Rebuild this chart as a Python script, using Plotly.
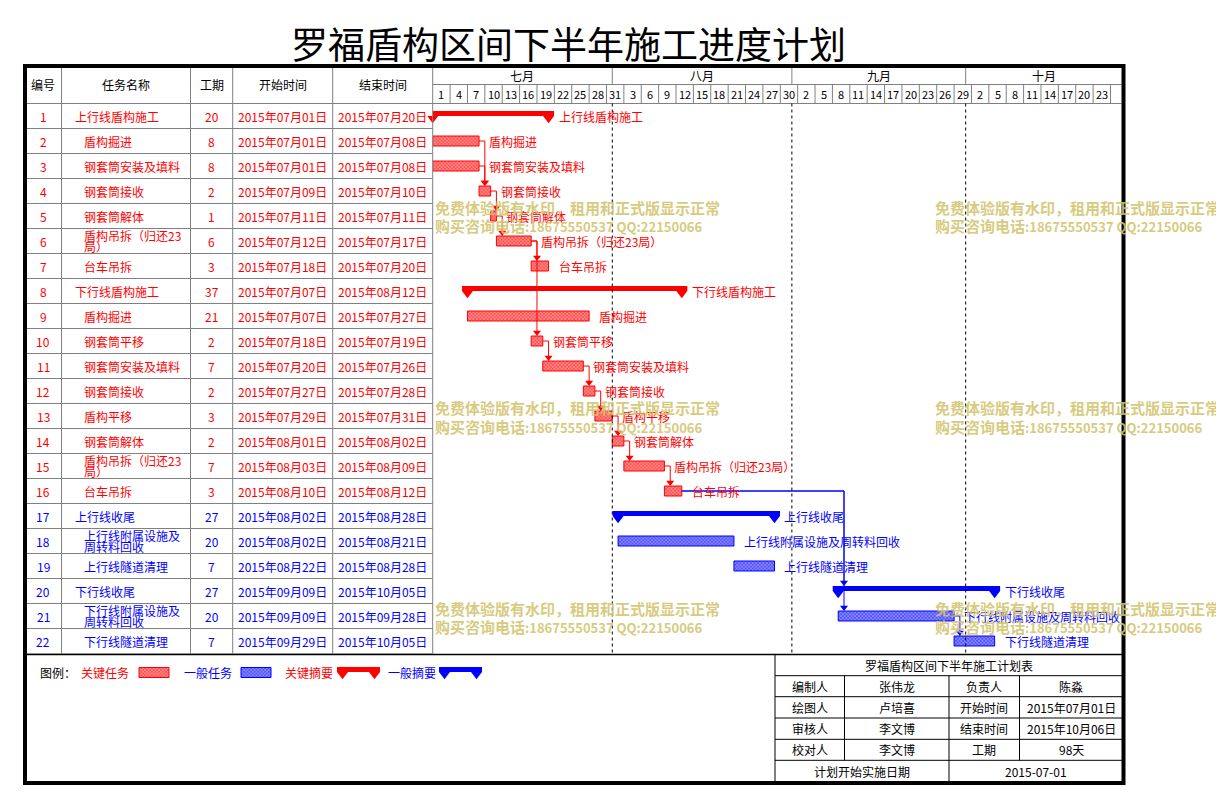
import pandas as pd
import plotly.graph_objects as go

W, H = 1216, 807
FONT = "Noto Sans CJK SC"

# ---------------- data ----------------
title_text = "罗福盾构区间下半年施工进度计划"
task_ids = list(range(1, 23))
task_names = [
    "上行线盾构施工", "盾构掘进", "钢套筒安装及填料", "钢套筒接收", "钢套筒解体",
    "盾构吊拆（归还23局）", "台车吊拆", "下行线盾构施工", "盾构掘进", "钢套筒平移",
    "钢套筒安装及填料", "钢套筒接收", "盾构平移", "钢套筒解体", "盾构吊拆（归还23局）",
    "台车吊拆", "上行线收尾", "上行线附属设施及周转料回收", "上行线隧道清理",
    "下行线收尾", "下行线附属设施及周转料回收", "下行线隧道清理",
]
durations = [20, 8, 8, 2, 1, 6, 3, 37, 21, 2, 7, 2, 3, 2, 7, 3, 27, 20, 7, 27, 20, 7]
start_dates = [
    "2015-07-01", "2015-07-01", "2015-07-01", "2015-07-09", "2015-07-11", "2015-07-12",
    "2015-07-18", "2015-07-07", "2015-07-07", "2015-07-18", "2015-07-20", "2015-07-27",
    "2015-07-29", "2015-08-01", "2015-08-03", "2015-08-10", "2015-08-02", "2015-08-02",
    "2015-08-22", "2015-09-09", "2015-09-09", "2015-09-29",
]
end_dates = [
    "2015-07-20", "2015-07-08", "2015-07-08", "2015-07-10", "2015-07-11", "2015-07-17",
    "2015-07-20", "2015-08-12", "2015-07-27", "2015-07-19", "2015-07-26", "2015-07-28",
    "2015-07-31", "2015-08-02", "2015-08-09", "2015-08-12", "2015-08-28", "2015-08-21",
    "2015-08-28", "2015-10-05", "2015-09-28", "2015-10-05",
]
summary_ids = [1, 8, 17, 20]
critical_ids = list(range(1, 17))
dependencies = [(2, 4), (3, 4), (4, 5), (5, 6), (6, 7), (6, 10), (10, 11), (11, 12),
                (12, 13), (13, 14), (14, 15), (15, 16), (16, 20), (16, 21), (21, 22)]
header_labels = ["编号", "任务名称", "工期", "开始时间", "结束时间"]
month_names = ["七月", "八月", "九月", "十月"]
month_starts = ["2015-07-01", "2015-08-01", "2015-09-01", "2015-10-01"]
legend_title = "图例："
legend_labels = ["关键任务", "一般任务", "关键摘要", "一般摘要"]
info_title = "罗福盾构区间下半年施工计划表"
info_rows = [
    ["编制人", "张伟龙", "负责人", "陈淼"],
    ["绘图人", "卢培喜", "开始时间", "2015年07月01日"],
    ["审核人", "李文博", "结束时间", "2015年10月06日"],
    ["校对人", "李文博", "工期", "98天"],
]
info_footer = ["计划开始实施日期", "2015-07-01"]
watermark_line1 = "免费体验版有水印，租用和正式版显示正常"
watermark_line2_cn = "购买咨询电话"
watermark_line2_num = ":18675550537 QQ:22150066"

# ---------------- layout constants (px) ----------------
RED, BLUE, GRID = "#FF0000", "#0000FF", "#808080"
TINT = {RED: "#FF9C9C", BLUE: "#9C9CFF"}
COL_X = [25, 61.5, 190.5, 232.7, 332.7, 432.7]
GANTT_R = 1121.5
BORDER_R = 1123.5
HEAD_TOP, MONTH_BOT, HEAD_BOT, BODY_BOT = 66, 84.5, 103.5, 653.5
BOTTOM = 783
RANGE_DAYS = 118.9
T0 = pd.Timestamp(start_dates[0])
T_END = T0 + pd.Timedelta(days=RANGE_DAYS)
DAY = pd.Timedelta(days=1)
CAP = pd.Timedelta(days=0.95)
PATTERN = dict(shape="x", size=2.5, solidity=0.6)


def fx(px):
    return px / W


def fy(py):
    return 1 - py / H


def ts(t):
    return pd.Timestamp(t).strftime("%Y-%m-%d %H:%M:%S")


def cn_date(s):
    d = pd.Timestamp(s)
    return f"{d.year}年{d.month:02d}月{d.day:02d}日"


def wrap(text, maxw=100):
    lines, cur, w = [], "", 0
    for ch in text:
        cw = 7 if ord(ch) < 128 else 12
        if w + cw > maxw and cur:
            lines.append(cur)
            cur, w = "", 0
        cur += ch
        w += cw
    lines.append(cur)
    return lines


fig = go.Figure()
annotations = []
shapes = []


def ann(text, x, y, color="black", size=12, xanchor="center", xref="paper", yref="paper", **kw):
    d = dict(text=text, x=x, y=y, xref=xref, yref=yref, showarrow=False,
             xanchor=xanchor, yanchor="middle", font=dict(family=FONT, size=size, color=color))
    d.update(kw)
    annotations.append(d)


def line(x0, y0, x1, y1, color=GRID, width=1, dash=None, xref="paper", yref="paper"):
    shapes.append(dict(type="line", x0=x0, y0=y0, x1=x1, y1=y1, xref=xref, yref=yref,
                       line=dict(color=color, width=width, dash=dash)))


def pattern(col):
    return dict(fgcolor=col, bgcolor=TINT[col], **PATTERN)


color_of = {i: (RED if i in critical_ids else BLUE) for i in task_ids}
starts = {i: pd.Timestamp(s) for i, s in zip(task_ids, start_dates)}
ends = {i: pd.Timestamp(e) + DAY for i, e in zip(task_ids, end_dates)}

# ---------------- task bars ----------------
for crit, col in ((True, RED), (False, BLUE)):
    ids = [i for i in task_ids if i not in summary_ids and (i in critical_ids) == crit]
    fig.add_trace(go.Bar(
        orientation="h", y=ids, base=[ts(starts[i]) for i in ids],
        x=[(ends[i] - starts[i]).total_seconds() * 1000 for i in ids],
        width=0.4, marker=dict(color=TINT[col], line=dict(color=col, width=1), pattern=pattern(col)),
        hoverinfo="skip", showlegend=False, xaxis="x", yaxis="y"))
    sids = [i for i in summary_ids if (i in critical_ids) == crit]
    fig.add_trace(go.Bar(
        orientation="h", y=sids, base=[ts(starts[i] - CAP) for i in sids],
        x=[(ends[i] - starts[i] + 2 * CAP).total_seconds() * 1000 for i in sids],
        width=0.2, offset=-0.2, marker=dict(color=col, line=dict(width=0)), cliponaxis=False,
        hoverinfo="skip", showlegend=False, xaxis="x", yaxis="y"))
    tx, ty = [], []
    for i in sids:
        tx += [ts(starts[i]), ts(ends[i])]
        ty += [i + 0.096, i + 0.096]
    fig.add_trace(go.Scatter(x=tx, y=ty, mode="markers", cliponaxis=False,
                             marker=dict(symbol="triangle-down", size=9.5, color=col, line=dict(width=0)),
                             hoverinfo="skip", showlegend=False, xaxis="x", yaxis="y"))

# ---------------- dependency connectors ----------------
for col in (RED, BLUE):
    lx, ly, ax, ay = [], [], [], []
    for p, s in dependencies:
        if color_of[s] != col:
            continue
        xa = starts[s] + DAY
        lx += [ts(ends[p]), ts(xa), ts(xa), None]
        ly += [p, p, s - 0.3, None]
        ax.append(ts(xa))
        ay.append(s - 0.34)
    fig.add_trace(go.Scatter(x=lx, y=ly, mode="lines", line=dict(color=col, width=1),
                             hoverinfo="skip", showlegend=False, xaxis="x", yaxis="y"))
    fig.add_trace(go.Scatter(x=ax, y=ay, mode="markers", cliponaxis=False,
                             marker=dict(symbol="triangle-down", size=7, color=col, line=dict(width=0)),
                             hoverinfo="skip", showlegend=False, xaxis="x", yaxis="y"))

# ---------------- gantt labels ----------------
for i, name in zip(task_ids, task_names):
    ann(name, ts(ends[i]), i, color=color_of[i], xanchor="left", xref="x", yref="y", xshift=8)

# ---------------- left table ----------------
for k, lab in enumerate(header_labels):
    ann(lab, fx((COL_X[k] + COL_X[k + 1]) / 2), fy((HEAD_TOP + HEAD_BOT) / 2))
for i, name, dur, s, e in zip(task_ids, task_names, durations, start_dates, end_dates):
    c = color_of[i]
    ann(str(i), fx(43), i, color=c, yref="y")
    xl = 73 if i in summary_ids else 82
    parts = wrap(name)
    if len(parts) == 1:
        ann(name, fx(xl), i, color=c, xanchor="left", yref="y")
    else:
        ann(parts[0], fx(xl), i - 0.23, color=c, xanchor="left", yref="y")
        ann(parts[1], fx(xl), i + 0.23, color=c, xanchor="left", yref="y")
    ann(str(dur), fx((COL_X[2] + COL_X[3]) / 2), i, color=c, yref="y")
    ann(cn_date(s), fx((COL_X[3] + COL_X[4]) / 2), i, color=c, yref="y")
    ann(cn_date(e), fx((COL_X[4] + COL_X[5]) / 2), i, color=c, yref="y")

for cx in COL_X[1:]:
    line(fx(cx), fy(HEAD_TOP), fx(cx), fy(BODY_BOT))
for k in range(len(task_ids)):
    line(fx(COL_X[0]), k + 1.5, fx(COL_X[5]), k + 1.5, yref="y")
line(fx(COL_X[0]), fy(HEAD_BOT), fx(GANTT_R), fy(HEAD_BOT))

# ---------------- timeline header ----------------
line(fx(COL_X[5]), fy(MONTH_BOT), fx(GANTT_R), fy(MONTH_BOT))
ms = [pd.Timestamp(m) for m in month_starts] + [T_END]
for k, mname in enumerate(month_names):
    a, b = max(ms[k], T0), min(ms[k + 1], T_END)
    ann(mname, ts(a + (b - a) / 2), fy((HEAD_TOP + MONTH_BOT) / 2), xref="x")
    if k > 0:
        line(ts(ms[k]), fy(HEAD_TOP), ts(ms[k]), fy(MONTH_BOT), xref="x")
        line(ts(ms[k]), fy(HEAD_BOT), ts(ms[k]), fy(BODY_BOT), color="black", dash="dot", xref="x")
d = T0
while d < T_END:
    if d > T0:
        line(ts(d), fy(MONTH_BOT), ts(d), fy(HEAD_BOT), xref="x")
    if d + 3 * DAY <= T_END:
        ann(str(d.day), ts(d + 1.5 * DAY), fy((MONTH_BOT + HEAD_BOT) / 2), size=11, xref="x")
    d += 3 * DAY

# ---------------- bottom separator / border ----------------
line(fx(COL_X[0]), fy(BODY_BOT + 1), fx(BORDER_R), fy(BODY_BOT + 1), color="black", width=1.5)
shapes.append(dict(type="rect", xref="paper", yref="paper", x0=fx(25), x1=fx(BORDER_R),
                   y0=fy(66), y1=fy(BOTTOM), line=dict(color="black", width=4)))

# ---------------- legend ----------------
LEG_Y = 672.5
ann(legend_title, fx(38), fy(LEG_Y), xanchor="left")
leg_text_x = [79, 182, 283, 386]
leg_cols = [RED, BLUE, RED, BLUE]
for t, x, c in zip(legend_labels, leg_text_x, leg_cols):
    ann(t, fx(x), fy(LEG_Y), color=c, xanchor="left")
for x0, c in ((139, RED), (241, BLUE)):
    fig.add_trace(go.Bar(orientation="h", y=[LEG_Y], base=[x0], x=[30], width=10,
                         marker=dict(color=TINT[c], line=dict(color=c, width=1), pattern=pattern(c)),
                         hoverinfo="skip", showlegend=False, xaxis="x2", yaxis="y2"))
for x0, c in ((337, RED), (439, BLUE)):
    fig.add_trace(go.Bar(orientation="h", y=[669.5], base=[x0], x=[43], width=5,
                         marker=dict(color=c, line=dict(width=0)),
                         hoverinfo="skip", showlegend=False, xaxis="x2", yaxis="y2"))
    fig.add_trace(go.Scatter(x=[x0 + 5.5, x0 + 37.5], y=[674.4, 674.4], mode="markers",
                             marker=dict(symbol="triangle-down", size=9.5, color=c, line=dict(width=0)),
                             hoverinfo="skip", showlegend=False, xaxis="x2", yaxis="y2"))

# ---------------- info table ----------------
IX = [775, 844.5, 949, 1019.5, BORDER_R - 1]
IY = [654.5, 675.7, 696.7, 718, 739.3, 760.3, BOTTOM]
line(fx(IX[0]), fy(IY[0]), fx(IX[0]), fy(BOTTOM), color="black")
for yy in IY[1:-1]:
    line(fx(IX[0]), fy(yy), fx(BORDER_R), fy(yy), color="black")
for k in (1, 3):
    line(fx(IX[k]), fy(IY[1]), fx(IX[k]), fy(IY[5]), color="black")
line(fx(IX[2]), fy(IY[1]), fx(IX[2]), fy(BOTTOM), color="black")
ann(info_title, fx((IX[0] + IX[4]) / 2), fy((IY[0] + IY[1]) / 2))
for r, row in enumerate(info_rows):
    for c, txt in enumerate(row):
        ann(txt, fx((IX[c] + IX[c + 1]) / 2), fy((IY[r + 1] + IY[r + 2]) / 2))
ann(info_footer[0], fx((IX[0] + IX[2]) / 2), fy((IY[5] + IY[6]) / 2))
ann(info_footer[1], fx((IX[2] + IX[4]) / 2), fy((IY[5] + IY[6]) / 2))

# ---------------- title ----------------
ann(title_text, fx(568), fy(43), size=37)

# ---------------- watermarks ----------------
WM_COLOR = "rgba(210,196,110,0.9)"
wm_texts = [
    "<b>" + watermark_line1 + "</b>",
    "<b>" + watermark_line2_cn + "<span style='font-size:13px'>" + watermark_line2_num + "</span></b>",
]
for wy in (208, 408, 608):
    for wx in (433, 933):
        for k, t in enumerate(wm_texts):
            annotations.append(dict(text=t, x=fx(wx), y=fy(wy + 18 * k), xref="paper",
                                    yref="paper", showarrow=False, xanchor="left", yanchor="middle",
                                    font=dict(family=FONT, size=15, color=WM_COLOR)))

fig.update_layout(
    width=W, height=H, margin=dict(l=0, r=0, t=0, b=0),
    paper_bgcolor="white", plot_bgcolor="rgba(0,0,0,0)",
    barmode="overlay", showlegend=False, hovermode=False,
    xaxis=dict(type="date", domain=[fx(COL_X[5]), fx(GANTT_R)], range=[ts(T0), ts(T_END)],
               visible=False, showgrid=False, anchor="y", fixedrange=True),
    yaxis=dict(domain=[fy(BODY_BOT), fy(HEAD_BOT)], range=[22.5, 0.5], visible=False,
               showgrid=False, anchor="x", fixedrange=True),
    xaxis2=dict(domain=[0, 1], range=[0, W], visible=False, anchor="y2", fixedrange=True),
    yaxis2=dict(domain=[0, 1], range=[H, 0], visible=False, anchor="x2", fixedrange=True),
    annotations=annotations, shapes=shapes,
)

fig.write_html("out.html", config={"displayModeBar": False},
               post_script="document.body.style.margin='0';")
